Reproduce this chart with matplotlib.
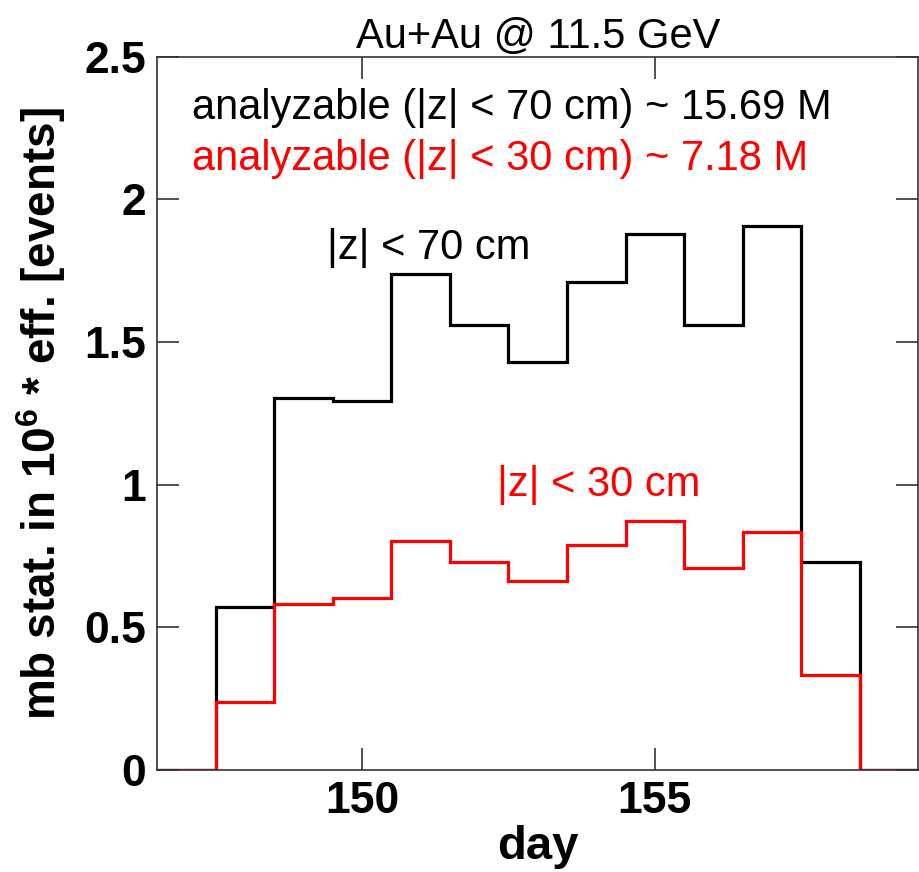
import matplotlib
matplotlib.use('Agg')
from matplotlib import pyplot as plt
import numpy as np

plt.rcParams['font.family'] = ['Liberation Sans', 'DejaVu Sans']
plt.rcParams['mathtext.fontset'] = 'custom'
plt.rcParams['mathtext.bf'] = 'Liberation Sans:bold'
plt.rcParams['mathtext.rm'] = 'Liberation Sans'

# data: one bin per day
days = np.arange(147, 160)
edges = np.append(days - 0.5, days[-1] + 0.5)

z70 = [0.0, 0.571, 1.304, 1.294, 1.739, 1.560, 1.430, 1.711, 1.879, 1.560, 1.905, 0.729, 0.0]
z30 = [0.0, 0.238, 0.582, 0.603, 0.803, 0.729, 0.663, 0.789, 0.873, 0.708, 0.834, 0.333, 0.0]

xticks = [150, 155]
yticks = [0, 0.5, 1, 1.5, 2, 2.5]
yticklabels = ['0', '0.5', '1', '1.5', '2', '2.5']

fig = plt.figure(figsize=(9.2, 8.72), dpi=100)
ax = fig.add_axes([0.171, 0.117, 0.827, 0.818])

ax.stairs(z70, edges, color='black', linewidth=2.3)
ax.stairs(z30, edges, color='red', linewidth=2.3)

ax.set_xlim(146.5, 159.5)
ax.set_ylim(0, 2.5)

ax.set_xticks(xticks)
ax.set_xticklabels([str(t) for t in xticks])
ax.set_yticks(yticks)
ax.set_yticklabels(yticklabels)
ax.tick_params(direction='in', length=16, width=1.2, color='#333333',
               top=True, right=True, labelsize=32, pad=8)
for lab in ax.get_xticklabels() + ax.get_yticklabels():
    lab.set_fontweight('bold')
for sp in ax.spines.values():
    sp.set_linewidth(1.2)
    sp.set_color('#333333')

ax.set_xlabel('day', fontsize=34, fontweight='bold', labelpad=2)
ax.set_ylabel(r'mb stat. in 10$^{\mathbf{6}}$ * eff. [events]', fontsize=33,
              fontweight='bold', labelpad=12)
ax.set_title('Au+Au @ 11.5 GeV', fontsize=30, pad=6)

ax.text(147.1, 2.32, 'analyzable (|z| < 70 cm) ~ 15.69 M', fontsize=30,
        color='black', va='center', ha='left')
ax.text(147.1, 2.14, 'analyzable (|z| < 30 cm) ~ 7.18 M', fontsize=30,
        color='red', va='center', ha='left')
ax.text(149.4, 1.83, '|z| < 70 cm', fontsize=30, color='black', va='center', ha='left')
ax.text(152.3, 1.0, '|z| < 30 cm', fontsize=30, color='red', va='center', ha='left')

fig.savefig('out.png', dpi=100)
